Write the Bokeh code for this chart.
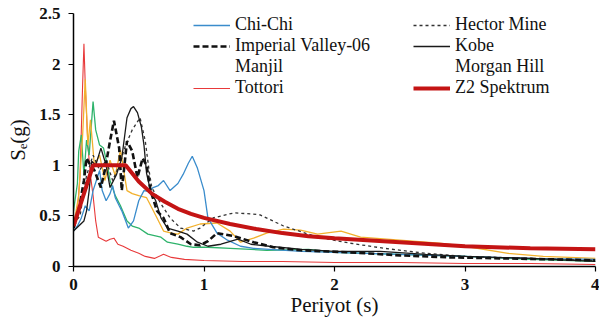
from bokeh.plotting import figure
from bokeh.models import Range1d, FixedTicker, NumeralTickFormatter, Legend, LegendItem, ColumnDataSource
from bokeh.embed import file_html
from bokeh.resources import INLINE

# ---- data (period T in s, spectral acceleration in g) ----
chichi_T = [0, 0.03, 0.06, 0.09, 0.12, 0.15, 0.18, 0.2, 0.22, 0.25, 0.28, 0.3, 0.32, 0.35, 0.37, 0.4, 0.42, 0.46, 0.5, 0.54,
            0.58, 0.61, 0.65, 0.69, 0.74, 0.8, 0.84, 0.88, 0.91, 0.95, 1.0, 1.03, 1.1, 1.18, 1.28, 1.38, 1.5, 1.75, 2.0, 2.5,
            3.0, 3.5, 4.0]
chichi_S = [0.35, 0.4, 0.48, 0.6, 0.55, 0.75, 0.87, 0.95, 0.75, 0.65, 0.72, 0.8, 0.68, 0.6, 0.55, 0.45, 0.38, 0.45, 0.65, 0.75,
            0.74, 0.78, 0.8, 0.85, 0.75, 0.82, 0.91, 1.02, 1.09, 0.97, 0.75, 0.48, 0.33, 0.26, 0.2, 0.18, 0.17, 0.15, 0.14, 0.12,
            0.1, 0.08, 0.07]

imperial_T = [0, 0.04, 0.08, 0.1, 0.13, 0.16, 0.21, 0.24, 0.28, 0.31, 0.35, 0.37, 0.41, 0.45, 0.49, 0.53, 0.56, 0.59, 0.64, 0.69,
              0.74, 0.82, 0.9, 0.97, 1.03, 1.1, 1.23, 1.38, 1.53, 1.74, 2.12, 2.5, 2.89, 3.3, 3.7, 4.0]
imperial_S = [0.38, 0.55, 0.85, 1.07, 1.0, 0.95, 0.78, 0.95, 1.24, 1.44, 1.17, 0.75, 1.24, 1.14, 0.88, 1.07, 1.0, 0.75, 0.55, 0.48,
              0.33, 0.29, 0.22, 0.21, 0.25, 0.33, 0.3, 0.24, 0.19, 0.16, 0.14, 0.11, 0.09, 0.08, 0.07, 0.06]

manjil_T = [0, 0.04, 0.07, 0.09, 0.11, 0.13, 0.16, 0.2, 0.24, 0.28, 0.32, 0.36, 0.41, 0.45, 0.5, 0.56, 0.6, 0.64, 0.69, 0.75,
            0.8, 0.87, 0.97, 1.1, 1.2, 1.28, 1.38, 1.48, 1.61, 1.74, 1.87, 2.05, 2.2, 2.5, 2.8, 3.0, 3.33, 3.6, 4.0]
manjil_S = [0.4, 0.7, 1.3, 1.85, 1.2, 1.45, 1.0, 1.1, 0.85, 1.05, 0.9, 1.15, 0.75, 0.72, 0.7, 0.68, 0.58, 0.48, 0.35, 0.33,
            0.32, 0.38, 0.42, 0.43, 0.35, 0.24, 0.28, 0.33, 0.37, 0.36, 0.32, 0.35, 0.29, 0.26, 0.23, 0.2, 0.13, 0.1, 0.08]

tottori_T = [0, 0.03, 0.05, 0.07, 0.08, 0.09, 0.11, 0.13, 0.15, 0.17, 0.19, 0.22, 0.25, 0.28, 0.31, 0.34, 0.38, 0.44, 0.5, 0.55,
             0.62, 0.69, 0.75, 0.85, 1.0, 1.3, 1.6, 2.0, 2.5, 3.0, 3.5, 4.0]
tottori_S = [0.4, 0.55, 0.9, 1.8, 2.2, 1.8, 1.2, 0.9, 0.7, 0.45, 0.29, 0.27, 0.25, 0.27, 0.28, 0.22, 0.2, 0.16, 0.13, 0.1,
             0.08, 0.12, 0.09, 0.07, 0.06, 0.05, 0.05, 0.04, 0.04, 0.03, 0.03, 0.02]

hector_T = [0, 0.05, 0.1, 0.15, 0.2, 0.25, 0.3, 0.35, 0.4, 0.45, 0.51, 0.55, 0.58, 0.6, 0.67, 0.74, 0.82, 0.92, 0.97, 1.07,
            1.23, 1.36, 1.43, 1.61, 1.87, 2.12, 2.38, 2.7, 3.0, 3.5, 4.0]
hector_S = [0.42, 0.5, 0.9, 1.1, 0.95, 1.05, 0.85, 1.0, 1.2, 1.35, 1.47, 1.24, 0.94, 0.78, 0.62, 0.48, 0.38, 0.35, 0.38, 0.48,
            0.53, 0.52, 0.51, 0.4, 0.29, 0.23, 0.18, 0.13, 0.1, 0.08, 0.06]

kobe_T = [0, 0.04, 0.08, 0.1, 0.12, 0.14, 0.17, 0.21, 0.25, 0.28, 0.33, 0.37, 0.41, 0.44, 0.46, 0.49, 0.52, 0.54, 0.56, 0.59,
          0.63, 0.67, 0.72, 0.8, 0.87, 0.95, 1.03, 1.13, 1.26, 1.36, 1.5, 1.75, 2.0, 2.35, 2.7, 3.0, 3.5, 4.0]
kobe_S = [0.35, 0.4, 0.45, 0.55, 0.75, 1.04, 1.0, 1.17, 1.0, 0.78, 0.91, 1.07, 1.47, 1.56, 1.58, 1.52, 1.38, 1.2, 0.92, 0.75,
          0.65, 0.48, 0.38, 0.35, 0.32, 0.24, 0.2, 0.22, 0.27, 0.22, 0.2, 0.17, 0.15, 0.15, 0.12, 0.1, 0.08, 0.05]

morgan_T = [0, 0.03, 0.04, 0.06, 0.08, 0.1, 0.12, 0.15, 0.17, 0.2, 0.23, 0.26, 0.28, 0.32, 0.36, 0.41, 0.45, 0.5, 0.57, 0.67,
            0.72, 0.8, 0.87, 0.92, 1.03, 1.2, 1.48, 1.8, 2.0, 2.5, 3.0, 3.5, 4.0]
morgan_S = [0.55, 0.82, 1.14, 1.3, 0.9, 1.25, 1.1, 1.63, 1.35, 1.2, 1.17, 1.0, 0.85, 0.7, 0.6, 0.45, 0.4, 0.38, 0.32, 0.29,
            0.24, 0.22, 0.2, 0.19, 0.19, 0.18, 0.16, 0.17, 0.14, 0.12, 0.1, 0.07, 0.05]

z2_T = [0, 0.15, 0.4, 0.5, 0.6, 0.7, 0.8, 0.9, 1.0, 1.2, 1.4, 1.6, 1.8, 2.0, 2.5, 3.0, 3.5, 4.0]
z2_S = [0.4, 1.0, 1.0, 0.84, 0.72, 0.64, 0.57, 0.52, 0.48, 0.42, 0.37, 0.33, 0.3, 0.28, 0.24, 0.2, 0.18, 0.17]

x_ticks = [0, 1, 2, 3, 4]
y_ticks = [0, 0.5, 1, 1.5, 2, 2.5]

SERIF = "'Liberation Serif', 'Times New Roman', serif"

p = figure(width=599, height=320, output_backend="svg", toolbar_location=None,
           x_range=Range1d(0, 4), y_range=Range1d(0, 2.5),
           min_border_left=73, min_border_right=4, min_border_top=13, min_border_bottom=54)
p.outline_line_color = None
p.grid.visible = False
p.background_fill_color = "white"

def src(T, S):
    return ColumnDataSource(dict(T=T, S=S))

s_tot = src(tottori_T, tottori_S)
s_mor = src(morgan_T, morgan_S)
s_man = src(manjil_T, manjil_S)
s_chi = src(chichi_T, chichi_S)
s_hec = src(hector_T, hector_S)
s_kob = src(kobe_T, kobe_S)
s_imp = src(imperial_T, imperial_S)
s_z2 = src(z2_T, z2_S)

r_tot = p.line("T", "S", source=s_tot, line_color="#e8393a", line_width=1.1)
r_mor = p.line("T", "S", source=s_mor, line_color="#2eb36b", line_width=1.3)
r_man = p.line("T", "S", source=s_man, line_color="#f2b12e", line_width=1.3)
r_chi = p.line("T", "S", source=s_chi, line_color="#3a8ccc", line_width=1.3)
r_hec = p.line("T", "S", source=s_hec, line_color="#333333", line_width=1.3, line_dash="3 3")
r_kob = p.line("T", "S", source=s_kob, line_color="#1a1a1a", line_width=1.3)
r_imp = p.line("T", "S", source=s_imp, line_color="#111111", line_width=2.6, line_dash="6 3")
r_z2 = p.line("T", "S", source=s_z2, line_color="#c41414", line_width=4)

# invisible copies used only for legend entries without a visible sample
r_man_leg = p.line("T", "S", source=s_man, line_alpha=0)
r_mor_leg = p.line("T", "S", source=s_mor, line_alpha=0)

def make_legend(items, loc):
    lg = Legend(items=items, location=loc, orientation="vertical",
                label_text_font=SERIF, label_text_font_size="18px", label_text_color="#111111",
                glyph_width=37, glyph_height=20, label_height=20, label_standoff=5,
                spacing=0, padding=0, margin=0,
                background_fill_alpha=0, border_line_alpha=0)
    return lg

leg1 = make_legend([
    LegendItem(label="Chi-Chi", renderers=[r_chi]),
    LegendItem(label="Imperial Valley-06", renderers=[r_imp]),
    LegendItem(label="Manjil", renderers=[r_man_leg]),
    LegendItem(label="Tottori", renderers=[r_tot]),
], (120, 168))
leg2 = make_legend([
    LegendItem(label="Hector Mine", renderers=[r_hec]),
    LegendItem(label="Kobe", renderers=[r_kob]),
    LegendItem(label="Morgan Hill", renderers=[r_mor_leg]),
    LegendItem(label="Z2 Spektrum", renderers=[r_z2]),
], (340, 168))
p.add_layout(leg1)
p.add_layout(leg2)

for ax in (p.xaxis[0], p.yaxis[0]):
    ax.axis_line_color = "black"
    ax.axis_line_width = 1.5
    ax.major_tick_line_color = "black"
    ax.major_tick_line_width = 1.2
    ax.major_tick_out = 5
    ax.major_tick_in = 0
    ax.minor_tick_line_color = None
    ax.major_label_text_font = SERIF
    ax.major_label_text_font_style = "bold"
    ax.major_label_text_font_size = "17px"
    ax.major_label_text_color = "#111111"
    ax.axis_label_text_font = SERIF
    ax.axis_label_text_font_style = "normal"
    ax.axis_label_text_font_size = "21px"
    ax.axis_label_text_color = "#111111"
    ax.formatter = NumeralTickFormatter(format="0.[0]")

p.xaxis[0].ticker = FixedTicker(ticks=x_ticks)
p.yaxis[0].ticker = FixedTicker(ticks=y_ticks)
p.xaxis[0].axis_label = "Periyot (s)"
p.yaxis[0].axis_label = "Sₑ(g)"
p.xaxis[0].major_label_standoff = 7
p.xaxis[0].axis_label_standoff = 0
p.yaxis[0].major_label_standoff = 8
p.yaxis[0].axis_label_standoff = 6

open("out.html", "w").write(file_html(p, INLINE))
